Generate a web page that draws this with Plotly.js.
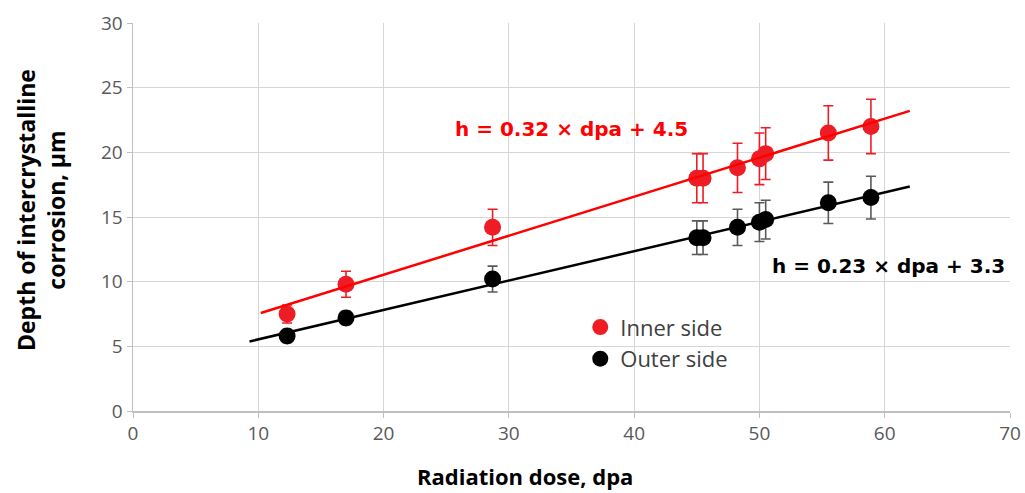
<!DOCTYPE html>
<html>
<head>
<meta charset="utf-8">
<script src="https://cdn.plot.ly/plotly-3.0.1.min.js"></script>
<style>
  html, body { margin: 0; padding: 0; background: #fff; }
  #chart { width: 1025px; height: 493px; }
</style>
</head>
<body>
<div id="chart"></div>
<script>
// Radiation dose of each sample, dpa
const doseDpa = [12.3, 17.0, 28.7, 45.0, 45.5, 48.25, 50.0, 50.5, 55.5, 58.9];

// Depth of intercrystalline corrosion, µm, with error half-widths
const innerDepth = [7.5, 9.8, 14.2, 18.0, 18.0, 18.8, 19.5, 19.9, 21.5, 22.0];
const innerError = [0.7, 1.0, 1.4, 1.9, 1.9, 1.9, 2.0, 2.0, 2.1, 2.1];
const outerDepth = [5.8, 7.2, 10.2, 13.4, 13.4, 14.2, 14.6, 14.8, 16.1, 16.5];
const outerError = [0.5, 0.5, 1.0, 1.3, 1.3, 1.4, 1.5, 1.5, 1.6, 1.65];

// Trend line extents (dpa) for each side
const innerTrendRange = [10.2, 62.0];
const outerTrendRange = [9.3, 62.0];

// Series names, equation labels and axis titles
const seriesNames = ['Inner side', 'Outer side'];
const equationLabels = ['h = 0.32 × dpa + 4.5', 'h = 0.23 × dpa + 3.3'];
const xTitle = 'Radiation dose, dpa';
const yTitle = 'Depth of intercrystalline<br>corrosion, µm';
const xTicks = [0, 10, 20, 30, 40, 50, 60, 70];
const yTicks = [0, 5, 10, 15, 20, 25, 30];

// Least-squares linear fit of a series
function linearFit(xs, ys) {
  const n = xs.length;
  const mx = xs.reduce((a, b) => a + b, 0) / n;
  const my = ys.reduce((a, b) => a + b, 0) / n;
  let sxy = 0, sxx = 0;
  for (let i = 0; i < n; i++) {
    sxy += (xs[i] - mx) * (ys[i] - my);
    sxx += (xs[i] - mx) * (xs[i] - mx);
  }
  const slope = sxy / sxx;
  return { slope, intercept: my - slope * mx };
}

function trendTrace(xs, ys, range, color) {
  const fit = linearFit(xs, ys);
  return {
    x: range,
    y: range.map(v => fit.slope * v + fit.intercept),
    mode: 'lines',
    line: { color: color, width: 2.5 },
    showlegend: false,
    hoverinfo: 'skip'
  };
}

const RED = '#ee1c25';
const fontFamily = '"Open Sans", "DejaVu Sans", sans-serif';

const traces = [
  {
    x: doseDpa, y: innerDepth, name: seriesNames[0], mode: 'markers',
    marker: { color: RED, size: 17 },
    error_y: { type: 'data', array: innerError, visible: true, color: RED, thickness: 1.6, width: 5 }
  },
  {
    x: doseDpa, y: outerDepth, name: seriesNames[1], mode: 'markers',
    marker: { color: '#000000', size: 17 },
    error_y: { type: 'data', array: outerError, visible: true, color: '#595959', thickness: 1.6, width: 5 }
  },
  trendTrace(doseDpa, innerDepth, innerTrendRange, '#ff0000'),
  trendTrace(doseDpa, outerDepth, outerTrendRange, '#000000')
];

const axisCommon = {
  showgrid: true,
  gridcolor: '#d6d6d6',
  gridwidth: 1,
  showline: true,
  linecolor: '#bfbfbf',
  linewidth: 1.5,
  ticks: 'outside',
  ticklen: 5,
  tickcolor: '#bfbfbf',
  zeroline: false,
  tickfont: { family: fontFamily, size: 19, color: '#595959' }
};

const layout = {
  width: 1025,
  height: 493,
  margin: { l: 133, r: 15, t: 23, b: 82 },
  paper_bgcolor: '#ffffff',
  plot_bgcolor: '#ffffff',
  font: { family: fontFamily },
  xaxis: Object.assign({}, axisCommon, { range: [0, 70], tickvals: xTicks }),
  yaxis: Object.assign({}, axisCommon, { range: [0, 30], tickvals: yTicks }),
  legend: {
    x: 0.51, y: 0.27, xanchor: 'left', yanchor: 'top',
    bgcolor: 'rgba(0,0,0,0)',
    font: { family: fontFamily, size: 22, color: '#404040' },
    tracegroupgap: 0
  },
  annotations: [
    {
      x: 35.0, y: 21.8, xref: 'x', yref: 'y', showarrow: false,
      text: equationLabels[0],
      font: { family: '"DejaVu Sans", sans-serif', size: 20, color: '#ff0000', weight: 'bold' }
    },
    {
      x: 60.3, y: 11.25, xref: 'x', yref: 'y', showarrow: false,
      text: equationLabels[1],
      font: { family: '"DejaVu Sans", sans-serif', size: 20, color: '#000000', weight: 'bold' }
    },
    {
      x: 525, y: 476, xref: 'paper', yref: 'paper', showarrow: false,
      xanchor: 'center', yanchor: 'middle',
      text: xTitle,
      font: { family: fontFamily, size: 22, color: '#000', weight: 'bold' }
    },
    {
      x: 41, y: 210, xref: 'paper', yref: 'paper', showarrow: false,
      xanchor: 'center', yanchor: 'middle',
      text: yTitle, textangle: -90,
      font: { family: fontFamily, size: 23, color: '#000', weight: 'bold' }
    }
  ],
  showlegend: true
};

// Place the axis titles at pixel positions within the figure
const plotW = layout.width - layout.margin.l - layout.margin.r;
const plotH = layout.height - layout.margin.t - layout.margin.b;
[2, 3].forEach(i => {
  const a = layout.annotations[i];
  a.x = (a.x - layout.margin.l) / plotW;
  a.y = (layout.height - layout.margin.b - a.y) / plotH;
});

Plotly.newPlot('chart', traces, layout, { displayModeBar: false, staticPlot: true });
</script>
</body>
</html>
